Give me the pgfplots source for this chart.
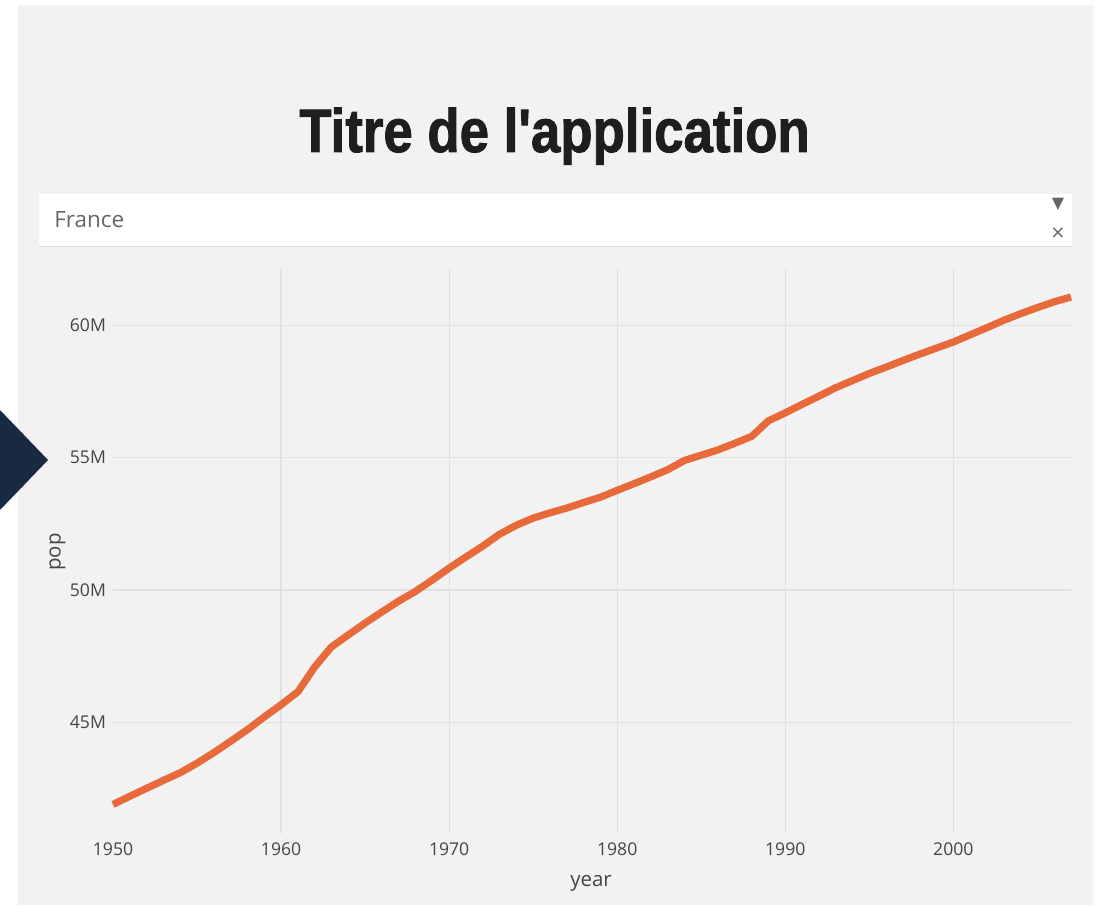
\documentclass[border=0pt]{standalone}
\usepackage{fontspec}
\setmainfont{Open Sans}
\newfontfamily\titlefont{Liberation Sans}[BoldFeatures={FakeBold=1.6}]
\newfontfamily\symfont{DejaVu Sans}
\usepackage{pgfplots}
\pgfplotsset{compat=1.18}

\definecolor{cPanel}{HTML}{F2F2F2}
\definecolor{cGrid}{HTML}{E1E1E1}
\definecolor{cLine}{HTML}{E8693A}
\definecolor{cTick}{HTML}{444444}
\definecolor{cTitle}{HTML}{1E1E1E}
\definecolor{cNavy}{HTML}{182A42}
\definecolor{cDrop}{HTML}{666666}

% population of France, millions
\pgfplotstableread{
year pop
1950 41.89
1951 42.20
1952 42.50
1953 42.80
1954 43.09
1955 43.45
1956 43.85
1957 44.28
1958 44.72
1959 45.20
1960 45.66
1961 46.15
1962 47.09
1963 47.85
1964 48.30
1965 48.75
1966 49.17
1967 49.58
1968 49.95
1969 50.38
1970 50.83
1971 51.25
1972 51.66
1973 52.11
1974 52.45
1975 52.72
1976 52.92
1977 53.10
1978 53.31
1979 53.51
1980 53.77
1981 54.02
1982 54.28
1983 54.55
1984 54.90
1985 55.10
1986 55.30
1987 55.55
1988 55.81
1989 56.40
1990 56.70
1991 57.02
1992 57.33
1993 57.65
1994 57.92
1995 58.19
1996 58.43
1997 58.68
1998 58.92
1999 59.15
2000 59.38
2001 59.65
2002 59.92
2003 60.20
2004 60.45
2005 60.68
2006 60.90
2007 61.08
}\popdata

\begin{document}
\begin{tikzpicture}
  \begin{scope}[x=1pt,y=1pt]
  \useasboundingbox (0,0) rectangle (551,453.5);
  \fill[white] (0,0) rectangle (551,453.5);
  \fill[cPanel] (9,1) rectangle (546.5,451);
  \fill[cNavy] (0,248.5) -- (24,223.5) -- (0,198.5) -- cycle;

  % title
  \node[anchor=base, inner sep=0, text=cTitle] at (277.25,377.5)
    {\scalebox{0.88}[1.02]{\titlefont\bfseries\fontsize{30}{34}\selectfont Titre de l\textquotesingle application}};

  % dropdown
  \fill[white] (19.5,330.5) rectangle (536,356.5);
  \draw[black!12, line width=0.5pt] (19.5,330.5) -- (536,330.5);
  \node[anchor=base west, inner sep=0, text=cDrop,
        font=\fontsize{11.2}{13}\selectfont] at (27,340) {France};
  \node[text=cDrop, inner sep=0, font=\symfont\fontsize{8}{9}\selectfont] at (529,351.5) {▼};
  \node[text=cDrop, inner sep=0, font=\symfont\fontsize{9}{10}\selectfont] at (529,337) {×};
  \end{scope}

  \begin{axis}[
      at={(56.5pt,37pt)}, anchor=south west,
      scale only axis, width=479pt, height=282pt,
      xmin=1950, xmax=2007, ymin=40.81, ymax=62.14,
      axis line style={draw=none}, tick style={draw=none},
      xmajorgrids, ymajorgrids,
      major grid style={cGrid, line width=0.6pt},
      xtick={1960,1970,1980,1990,2000},
      xticklabels={1960,1970,1980,1990,2000},
      extra x ticks={1950}, extra x tick labels={1950},
      extra x tick style={grid=none},
      ytick={45,50,55,60},
      yticklabels={45M,50M,55M,60M},
      ticklabel style={text=cTick, font=\fontsize{8.8}{10}\selectfont},
      xticklabel style={yshift=-1.5pt},
      clip=false,
    ]
    \addplot[cLine, line width=3.6pt, line join=round] table[x=year, y=pop] {\popdata};
  \end{axis}

  \node[text=cTick, font=\fontsize{10.2}{12}\selectfont] at (295.5pt,11.8pt) {year};
  \node[text=cTick, rotate=90, font=\fontsize{10.2}{12}\selectfont] at (28.75pt,177.5pt) {pop};
\end{tikzpicture}
\end{document}
